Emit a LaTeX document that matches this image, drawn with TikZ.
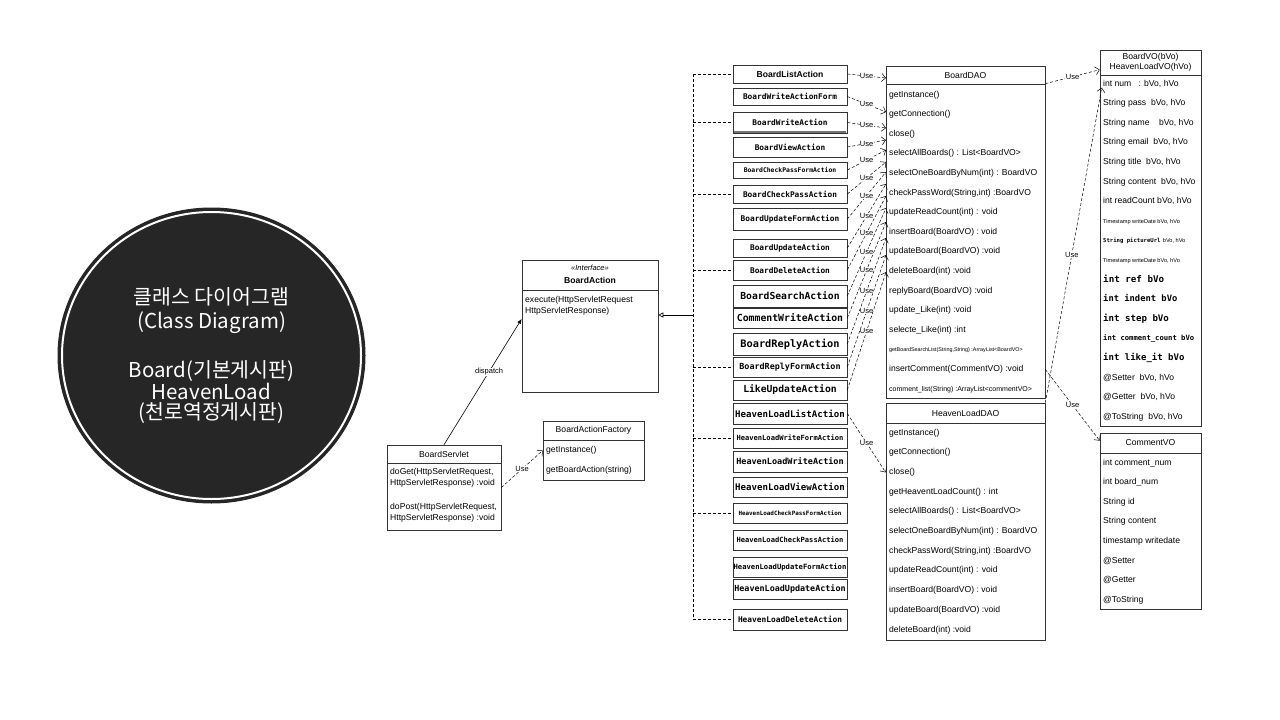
\documentclass[tikz,border=0pt]{standalone}
\usepackage{fontspec}
\setmainfont{Liberation Sans}
\newfontfamily\monob{DejaVu Sans Mono}
\newfontfamily\kr{Noto Sans CJK KR}
\usetikzlibrary{arrows.meta, calc, shapes.geometric}

\newcommand\fs[1]{\fontsize{#1}{#1}\selectfont}
\newcommand\actf[1]{\monob\bfseries\fontsize{#1}{#1}\selectfont}

\begin{document}
\begin{tikzpicture}[
        x=1pt, y=-1pt,
        cls/.style={draw=black!80, fill=white, line width=0.6pt, inner sep=0pt},
        act/.style={draw=black!80, fill=white, line width=0.6pt, minimum width=114, inner sep=0pt},
        item/.style={anchor=west, inner sep=0pt, text height=6, text depth=2, font=\fs{8.6}},
        head/.style={inner sep=0pt, font=\fs{8.6}},
        sep/.style={draw=black!80, line width=0.6pt},
        use/.style={densely dashed, line width=0.5pt, -{Straight Barb[length=4pt, width=8pt]}},
        lbl/.style={fill=white, inner sep=0.4pt, font=\fs{7.5}},
        bus/.style={densely dashed, line width=0.5pt}
    ]
    \path[use as bounding box, fill=white] (0,0) rectangle (1280,720);

    % Title circle
    \node[ellipse, draw=black!85, fill=black!85, line width=1pt, minimum width=307, minimum height=295] (title) at (211.5,355.5) {};
    \node[ellipse, draw=white, line width=2pt, minimum width=299, minimum height=287, text=white, align=center,
        font=\kr\fontsize{20.5}{22}\selectfont] (titletext) at (title.center)
        {클래스 다이어그램\\[2pt](Class Diagram)\\[26pt]Board(기본게시판)\\HeavenLoad\\[-2pt](천로역정게시판)};

    % Servlet, interface and factory
    \node[cls, minimum width=136, minimum height=132] (ba) at (590,326) {};
    \node[head, font=\fs{7.5}\itshape] (bat1) at (590,268) {<<Interface>>};
    \node[head, font=\fs{8.6}\bfseries] (bat2) at (590,280) {BoardAction};
    \draw[sep] (522,290) -- (658,290);
    \node[item] (ba1) at (525,300) {execute(HttpServletRequest};
    \node[item] (ba2) at (525,311) {HttpServletResponse)};

    \node[cls, minimum width=114, minimum height=85] (srv) at (444,487.5) {};
    \node[head] (srvt) at (444,454) {BoardServlet};
    \draw[sep] (387,463) -- (501,463);
    \node[item] (s1) at (390,472) {doGet(HttpServletRequest,};
    \node[item] (s2) at (390,483) {HttpServletResponse) :void};
    \node[item] (s3) at (390,507) {doPost(HttpServletRequest,};
    \node[item] (s4) at (390,518) {HttpServletResponse) :void};

    \node[cls, minimum width=101, minimum height=59] (fac) at (593.5,450.5) {};
    \node[head] (fact) at (593.5,430) {BoardActionFactory};
    \draw[sep] (543,440) -- (644,440);
    \node[item] (f1) at (546,450) {getInstance()};
    \node[item] (f2) at (546,470) {getBoardAction(string)};

    \draw[line width=0.6pt, -{Latex[length=5pt, width=4pt]}] (srv.north) -- node[lbl, pos=0.58] {dispatch} (ba.174);
    \draw[use] (srv.east) -- node[lbl] {Use} (fac.west);

    % Actions
    \node[act, minimum height=18, font=\bfseries\fs{8.6}] (a1) at (790,74) {BoardListAction};
    \node[act, minimum height=17, font=\actf{7.8}] (a2) at (790,96.5) {BoardWriteActionForm};
    \node[act, minimum height=21, font=\actf{7.8}] (a3) at (790,122.5) {BoardWriteAction};
    \draw[black!55, line width=2pt] ($(a3.south west)+(1,-1)$) -- ($(a3.south east)+(-1,-1)$);
    \node[act, minimum height=20, font=\actf{7.8}] (a4) at (790,147) {BoardViewAction};
    \node[act, minimum height=16, font=\actf{6.4}] (a5) at (790,170) {BoardCheckPassFormAction};
    \node[act, minimum height=18, font=\actf{7.8}] (a6) at (790,194) {BoardCheckPassAction};
    \node[act, minimum height=22, font=\actf{7.8}] (a7) at (790,219) {BoardUpdateFormAction};
    \node[act, minimum height=18, font=\actf{7.8}] (a8) at (790,248) {BoardUpdateAction};
    \node[act, minimum height=20, font=\actf{7.8}] (a9) at (790,270) {BoardDeleteAction};
    \node[act, minimum height=22, font=\actf{9.7}] (a10) at (790,296) {BoardSearchAction};
    \node[act, minimum height=20, font=\actf{9.8}] (a11) at (790,318) {CommentWriteAction};
    \node[act, minimum height=22, font=\actf{10.3}] (a12) at (790,344) {BoardReplyAction};
    \node[act, minimum height=20, font=\actf{8.4}] (a13) at (790,367) {BoardReplyFormAction};
    \node[act, minimum height=20, font=\actf{9.7}] (a14) at (790,390) {LikeUpdateAction};
    \node[act, minimum height=21, font=\actf{9.1}] (a15) at (790,413.5) {HeavenLoadListAction};
    \node[act, minimum height=20, font=\actf{7.1}] (a16) at (790,438) {HeavenLoadWriteFormAction};
    \node[act, minimum height=21, font=\actf{8.5}] (a17) at (790,461.5) {HeavenLoadWriteAction};
    \node[act, minimum height=20, font=\actf{9.1}] (a18) at (790,487) {HeavenLoadViewAction};
    \node[act, minimum height=20, font=\actf{5.9}] (a19) at (790,513) {HeavenLoadCheckPassFormAction};
    \node[act, minimum height=20, font=\actf{7.1}] (a20) at (790,540) {HeavenLoadCheckPassAction};
    \node[act, minimum height=20, font=\actf{7.2}] (a21) at (790,567) {HeavenLoadUpdateFormAction};
    \node[act, minimum height=20, font=\actf{8.4}] (a22) at (790,589) {HeavenLoadUpdateAction};
    \node[act, minimum height=21, font=\actf{7.85}] (a23) at (790,619.5) {HeavenLoadDeleteAction};

    % Realization bus to the interface
    \coordinate (bus) at (693,315);
    \draw[bus] (a1.west -| bus) -- (a23.west -| bus);
    \foreach \k in {1,3,6,9,13,16,19,23}
        \draw[bus] (a\k.west -| bus) -- (a\k.west);
    \draw[line width=0.6pt, -{Triangle[open, length=5pt, width=5pt]}] (bus) -- (bus -| ba.east);

    % DAO classes
    \node[cls, minimum width=159, minimum height=332] (dao) at (965.5,232) {};
    \node[head] (daot) at (965.5,75) {BoardDAO};
    \draw[sep] (886,84) -- (1045,84);
    \foreach \m [count=\i] in {{getInstance()}, {getConnection()}, {close()}, {selectAllBoards() : List<BoardVO>},
        {selectOneBoardByNum(int) : BoardVO}, {checkPassWord(String,int) :BoardVO}, {updateReadCount(int) : void},
        {insertBoard(BoardVO) : void}, {updateBoard(BoardVO) :void}, {deleteBoard(int) :void},
        {replyBoard(BoardVO) :void}, {update\_Like(int) :void}, {selecte\_Like(int) :int},
        {\fs{5.4}getBoardSearchList(String,String) :ArrayList<BoardVO>}, {insertComment(CommentVO) :void},
        {\fs{7}comment\_list(String) :ArrayList<commentVO>}}
        \node[item] (d\i) at (889,75.4+19.6*\i) {\m};

    \node[cls, minimum width=159, minimum height=237] (hdao) at (965.5,521.5) {};
    \node[head] (hdaot) at (965.5,413) {HeavenLoadDAO};
    \draw[sep] (886,423) -- (1045,423);
    \foreach \m [count=\i] in {{getInstance()}, {getConnection()}, {close()}, {getHeaventLoadCount() : int},
        {selectAllBoards() : List<BoardVO>}, {selectOneBoardByNum(int) : BoardVO}, {checkPassWord(String,int) :BoardVO},
        {updateReadCount(int) : void}, {insertBoard(BoardVO) : void}, {updateBoard(BoardVO) :void}, {deleteBoard(int) :void}}
        \node[item] (h\i) at (889,413.3+19.7*\i) {\m};

    % VO classes
    \node[cls, minimum width=101, minimum height=376] (vo) at (1150.5,238) {};
    \node[head, align=center, font=\fontsize{8.6}{10.5}\selectfont] (vot) at (1150.5,62.5) {BoardVO(bVo)\\HeavenLoadVO(hVo)};
    \draw[sep] (1100,75) -- (1201,75);
    \foreach \m [count=\i] in {{int num~~~: bVo, hVo}, {String pass~~bVo, hVo}, {String name~~~~bVo, hVo},
        {String email~~bVo, hVo}, {String title~~bVo, hVo}, {String content~~bVo, hVo}, {int readCount bVo, hVo},
        {\fs{5.6}Timestamp writeDate bVo, hVo}, {{\actf{5.6}String pictureUrl} \fs{5.6}bVo, hVo},
        {\fs{5.6}Timestamp writeDate bVo, hVo}, {\actf{9.2}int ref bVo}, {\actf{8.8}int indent bVo},
        {\actf{9.1}int step bVo}, {\actf{7.2}int comment\_count bVo}, {\actf{9}int like\_it bVo},
        {@Setter~~bVo, hVo}, {@Getter~~bVo, hVo}, {@ToString~~bVo, hVo}}
        \node[item] (v\i) at (1103,64.4+19.6*\i) {\m};

    \node[cls, minimum width=101, minimum height=176] (cvo) at (1150.5,521) {};
    \node[head] (cvot) at (1150.5,443) {CommentVO};
    \draw[sep] (1100,453) -- (1201,453);
    \foreach \m [count=\i] in {{int comment\_num}, {int board\_num}, {String id}, {String content},
        {timestamp writedate}, {@Setter}, {@Getter}, {@ToString}}
        \node[item] (c\i) at (1103,443.4+19.6*\i) {\m};

    % Use dependencies
    \foreach \y [count=\i] in {78,112,128,140,150,162,172,184,196,208,222,238,255,272}
        \coordinate (t\i) at (886,\y);
    \foreach \i in {1,...,14}
        \draw[use] (a\i.east) -- node[lbl] {Use} (t\i);
    \draw[use] (a15.east) -- node[lbl] {Use} (hdao.west |- h3);
    \draw[use] ($(dao.north east)+(0,18)$) -- node[lbl] {Use} ($(vo.north west)+(0,20)$);
    \draw[use] (hdao.north east) -- node[lbl, pos=0.47] {Use} ($(vo.north west)+(2,38)$);
    \draw[use] (d15 -| dao.east) -- node[lbl] {Use} ($(cvo.north west)+(0,8)$);

\end{tikzpicture}
\end{document}
